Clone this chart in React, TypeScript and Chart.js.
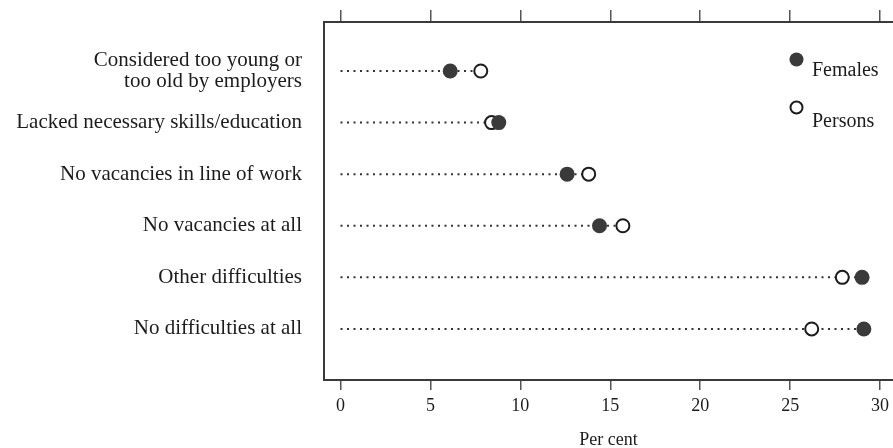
import React, { useEffect, useRef } from "react";
import { Chart, registerables } from "chart.js";

Chart.register(...registerables);

const categories: string[][] = [
  ["Considered too young or", "too old by employers"],
  ["Lacked necessary skills/education"],
  ["No vacancies in line of work"],
  ["No vacancies at all"],
  ["Other difficulties"],
  ["No difficulties at all"],
];
const females: number[] = [6.1, 8.8, 12.6, 14.4, 29.0, 29.1];
const persons: number[] = [7.8, 8.4, 13.8, 15.7, 27.9, 26.2];
const xTicks: number[] = [0, 5, 10, 15, 20, 25, 30];
const seriesNames: string[] = ["Females", "Persons"];
const axisTitle = "Per cent";

const FONT = "'Liberation Serif', 'Times New Roman', serif";
const INK = "#1c1c1c";
const DARK = "#3a3a3a";

const zeroPad = (s: any) => {
  s.paddingTop = 0;
  s.paddingBottom = 0;
  s.paddingLeft = 0;
  s.paddingRight = 0;
};

const legendPlugin = {
  id: "dotLegend",
  afterDraw(chart: any) {
    const ctx = chart.ctx;
    ctx.save();
    ctx.beginPath();
    ctx.arc(796.5, 59.5, 7, 0, Math.PI * 2);
    ctx.fillStyle = DARK;
    ctx.fill();
    ctx.beginPath();
    ctx.arc(796.5, 107.5, 6, 0, Math.PI * 2);
    ctx.fillStyle = "#fff";
    ctx.fill();
    ctx.lineWidth = 2;
    ctx.strokeStyle = INK;
    ctx.stroke();
    ctx.fillStyle = INK;
    ctx.font = `20px ${FONT}`;
    ctx.textAlign = "left";
    ctx.textBaseline = "alphabetic";
    ctx.fillText(seriesNames[0], 812, 75.5);
    ctx.fillText(seriesNames[1], 812, 127);
    ctx.restore();
  },
};

export default function App() {
  const ref = useRef<HTMLCanvasElement>(null);
  useEffect(() => {
    if (!ref.current) return;
    const xMin = -0.9175;
    const xMax = 30.72;
    const lineSets = categories.map((_, i) => ({
      type: "scatter" as const,
      label: "line" + i,
      data: [
        { x: 0, y: i },
        { x: Math.max(females[i], persons[i]), y: i },
      ],
      showLine: true,
      borderColor: "#333",
      borderWidth: 2,
      borderDash: [2, 4.5],
      pointRadius: 0,
      pointHoverRadius: 0,
    }));
    const chart = new Chart(ref.current, {
      type: "scatter",
      data: {
        datasets: [
          {
            label: seriesNames[0],
            data: females.map((v, i) => ({ x: v, y: i })),
            pointRadius: 7.5,
            pointBackgroundColor: DARK,
            pointBorderColor: DARK,
            pointBorderWidth: 0,
          },
          {
            label: seriesNames[1],
            data: persons.map((v, i) => ({ x: v, y: i })),
            pointRadius: 6.5,
            pointBackgroundColor: "#ffffff",
            pointBorderColor: INK,
            pointBorderWidth: 2,
          },
          ...lineSets,
        ] as any,
      },
      options: {
        animation: false,
        responsive: false,
        devicePixelRatio: 1,
        layout: { padding: 0, autoPadding: false },
        plugins: {
          legend: { display: false },
          tooltip: { enabled: false },
        },
        scales: {
          x: {
            type: "linear",
            position: "bottom",
            min: xMin,
            max: xMax,
            afterFit: (s: any) => {
              s.height = 68;
              zeroPad(s);
            },
            afterBuildTicks: (s: any) => {
              s.ticks = xTicks.map((v) => ({ value: v }));
            },
            ticks: {
              stepSize: 5,
              includeBounds: false,
              autoSkip: false,
              maxRotation: 0,
              padding: 5,
              color: INK,
              font: { family: FONT, size: 18 },
            },
            grid: {
              display: true,
              drawOnChartArea: false,
              drawTicks: true,
              tickLength: 10,
              color: "#555",
              lineWidth: 1.5,
            },
            border: { display: true, color: DARK, width: 2 },
            title: {
              display: true,
              text: axisTitle,
              color: INK,
              font: { family: FONT, size: 18, lineHeight: 1 },
              padding: { top: 0, bottom: -1 },
            },
          },
          x2: {
            type: "linear",
            position: "top",
            min: xMin,
            max: xMax,
            afterFit: (s: any) => {
              s.height = 22;
              zeroPad(s);
            },
            afterBuildTicks: (s: any) => {
              s.ticks = xTicks.map((v) => ({ value: v }));
            },
            ticks: { display: false, stepSize: 5, includeBounds: false },
            grid: {
              display: true,
              drawOnChartArea: false,
              drawTicks: true,
              tickLength: 12,
              color: "#555",
              lineWidth: 1.5,
            },
            border: { display: true, color: DARK, width: 2 },
          },
          y: {
            type: "linear",
            position: "left",
            reverse: true,
            min: -0.95,
            max: 5.99,
            afterFit: (s: any) => {
              s.width = 324;
              zeroPad(s);
            },
            ticks: {
              stepSize: 1,
              includeBounds: false,
              autoSkip: false,
              padding: 22,
              color: INK,
              font: { family: FONT, size: 21, lineHeight: 1 },
              callback: (v: any) =>
                Number.isInteger(v) && categories[v] ? categories[v] : "",
            },
            grid: { display: false, drawTicks: false, tickLength: 0 },
            border: { display: true, color: DARK, width: 2 },
          },
        },
      } as any,
      plugins: [legendPlugin],
    });
    return () => chart.destroy();
  }, []);
  return (
    <div
      style={{
        position: "absolute",
        left: 0,
        top: 0,
        width: 893,
        height: 448,
        background: "#fff",
      }}
    >
      <canvas ref={ref} width={893} height={448} />
    </div>
  );
}
